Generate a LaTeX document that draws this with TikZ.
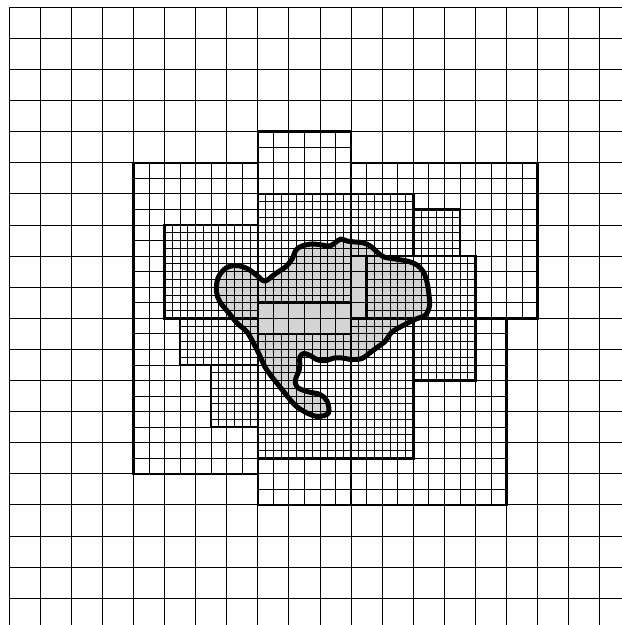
\documentclass[tikz,border=0pt]{standalone}
\begin{document}
\begin{tikzpicture}[x=1pt,y=-1pt,
  gridline/.style={black,line width=0.9pt},
  patchborder/.style={black,line width=2.6pt,line join=miter},
  blob/.style={black,line width=5pt,line join=round,fill=black!17}]
\useasboundingbox (0,0) rectangle (622,625);
\newcommand\amrpatch[5]{%
  \pgfmathsetmacro\pxa{9+31.1*#1}\pgfmathsetmacro\pya{7.3+31.1*#2}%
  \pgfmathsetmacro\pxb{9+31.1*#3}\pgfmathsetmacro\pyb{7.3+31.1*#4}%
  \pgfmathsetmacro\pst{31.1*#5}%
  \pgfmathtruncatemacro\pnx{round((#3-#1)/#5)}%
  \pgfmathtruncatemacro\pny{round((#4-#2)/#5)}%
  \foreach \k in {0,...,\pnx}{\draw[gridline] ({\pxa+\k*\pst},\pya) -- ({\pxa+\k*\pst},\pyb);}%
  \foreach \k in {0,...,\pny}{\draw[gridline] (\pxa,{\pya+\k*\pst}) -- (\pxb,{\pya+\k*\pst});}%
}
\newcommand\amrborder[4]{%
  \draw[patchborder] ({9+31.1*#1},{7.3+31.1*#2}) rectangle ({9+31.1*#3},{7.3+31.1*#4});}
% gray region
\fill[black!17] plot[smooth cycle,tension=0.55] coordinates {
(216.5,292) (218,278) (226,268) (237,265.5) (248,269) (257,275.5) (265,281)
(275,274) (286,266.5) (292,259) (296,250) (302,246) (312,244) (322,245)
(330,246) (336,242) (341,239) (347,241) (355,242) (364,243) (371,246.5)
(377,252) (384,257) (395,259) (407,261) (417,265) (423.5,272) (427,282)
(429,295) (429.5,306) (425.5,315) (416,319) (404,325) (392,332) (385,341.5)
(377,347.5) (369,353.5) (362,358.5) (352,359.5) (342,358) (334,358)
(326,360.5) (318,360) (310,355.5) (304,353.5) (300,357) (299.5,369)
(295.5,379.5) (297,387) (307,391.5) (320,394.5) (327,401) (328.5,413)
(318,416.5) (307,413) (296,406) (288,397) (280,387) (272,377) (265,367)
(259,354) (254,344) (247,332) (237,323) (228,312) (220,302)};
% coarse grid
\foreach \k in {0,...,19}{
  \draw[gridline] ({9+31.1*\k},7.3) -- ({9+31.1*\k},625);
  \draw[gridline] (9,{7.3+31.1*\k}) -- (622,{7.3+31.1*\k});
}
% level 1
\amrpatch{4}{5}{8}{15}{0.5}
\amrpatch{8}{4}{11}{16}{0.5}
\amrpatch{11}{5}{17}{10}{0.5}
\amrpatch{11}{10}{16}{16}{0.5}
% level 2
\amrpatch{5}{7}{8}{10}{0.25}
\amrpatch{5.5}{10}{8}{11.5}{0.25}
\amrpatch{6.5}{11.5}{8}{13.5}{0.25}
\amrpatch{8}{6}{11}{9.5}{0.25}
\amrpatch{8}{10.5}{11}{14.5}{0.25}
\amrpatch{11}{6}{13}{8}{0.25}
\amrpatch{13}{6.5}{14.5}{8}{0.25}
\amrpatch{11.5}{8}{15}{10}{0.25}
\amrpatch{11}{10}{13}{14.5}{0.25}
\amrpatch{13}{10}{15}{12}{0.25}
% borders
\amrborder{4}{5}{8}{15}
\amrborder{8}{4}{11}{16}
\amrborder{11}{5}{17}{10}
\amrborder{11}{10}{16}{16}
\amrborder{5}{7}{8}{10}
\amrborder{5.5}{10}{8}{11.5}
\amrborder{6.5}{11.5}{8}{13.5}
\amrborder{8}{6}{11}{9.5}
\amrborder{8}{10.5}{11}{14.5}
\amrborder{11}{6}{13}{8}
\amrborder{13}{6.5}{14.5}{8}
\amrborder{11.5}{8}{15}{10}
\amrborder{11}{10}{13}{14.5}
\amrborder{13}{10}{15}{12}
% outline
\draw[black,line width=5pt,line join=round] plot[smooth cycle,tension=0.55] coordinates {
(216.5,292) (218,278) (226,268) (237,265.5) (248,269) (257,275.5) (265,281)
(275,274) (286,266.5) (292,259) (296,250) (302,246) (312,244) (322,245)
(330,246) (336,242) (341,239) (347,241) (355,242) (364,243) (371,246.5)
(377,252) (384,257) (395,259) (407,261) (417,265) (423.5,272) (427,282)
(429,295) (429.5,306) (425.5,315) (416,319) (404,325) (392,332) (385,341.5)
(377,347.5) (369,353.5) (362,358.5) (352,359.5) (342,358) (334,358)
(326,360.5) (318,360) (310,355.5) (304,353.5) (300,357) (299.5,369)
(295.5,379.5) (297,387) (307,391.5) (320,394.5) (327,401) (328.5,413)
(318,416.5) (307,413) (296,406) (288,397) (280,387) (272,377) (265,367)
(259,354) (254,344) (247,332) (237,323) (228,312) (220,302)};
\end{tikzpicture}
\end{document}
